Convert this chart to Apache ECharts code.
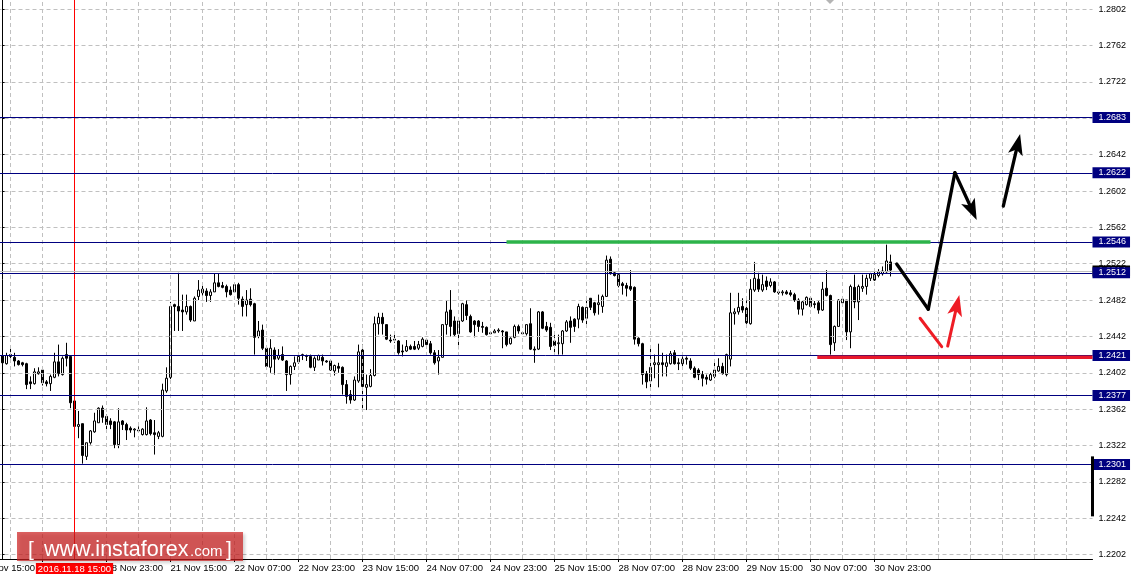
<!DOCTYPE html>
<html><head><meta charset="utf-8">
<script src="https://cdn.jsdelivr.net/npm/echarts@6/dist/echarts.min.js"></script>
<style>html,body{margin:0;padding:0;background:#fff}#c{width:1136px;height:582px}</style>
</head><body><div id="c"></div>
<script>
// ---- data ----
const tickLabels = ["17 Nov 15:00","18 Nov 07:00","18 Nov 23:00","21 Nov 15:00","22 Nov 07:00","22 Nov 23:00",
  "23 Nov 15:00","24 Nov 07:00","24 Nov 23:00","25 Nov 15:00","28 Nov 07:00","28 Nov 23:00","29 Nov 15:00",
  "30 Nov 07:00","30 Nov 23:00"];
const yTicks = [1.2202,1.2242,1.2282,1.2322,1.2362,1.2402,1.2442,1.2482,1.2522,1.2562,1.2602,1.2642,1.2682,1.2722,1.2762,1.2802];
const levels = [1.2683,1.2622,1.2546,1.2512,1.2421,1.2377,1.2301];
const bidPrice = 1.2514;
const markerBar = 18;
const markerTime = "2016.11.18 15:00";
// H1 candles: [open, close, low, high]
const candles = [
[1.2421,1.2413,1.2412,1.2427],[1.2412,1.2421,1.2411,1.2424],[1.2422,1.2420,1.2418,1.2431],[1.2419,1.2415,1.2409,1.2424],
[1.2415,1.2411,1.2410,1.2416],[1.2413,1.2411,1.2409,1.2414],[1.2412,1.2389,1.2384,1.2413],[1.2392,1.2390,1.2384,1.2398],
[1.2390,1.2403,1.2389,1.2407],[1.2401,1.2403,1.2400,1.2408],[1.2405,1.2391,1.2388,1.2407],[1.2392,1.2390,1.2387,1.2394],
[1.2390,1.2398,1.2382,1.2400],[1.2397,1.2414,1.2396,1.2424],[1.2414,1.2401,1.2398,1.2433],[1.2400,1.2418,1.2399,1.2420],
[1.2422,1.2418,1.2409,1.2435],[1.2420,1.2369,1.2363,1.2421],[1.2371,1.2343,1.2340,1.2372],[1.2343,1.2345,1.2330,1.2360],
[1.2346,1.2311,1.2302,1.2346],[1.2310,1.2325,1.2306,1.2325],[1.2325,1.2338,1.2323,1.2339],[1.2337,1.2349,1.2336,1.2358],
[1.2347,1.2363,1.2347,1.2364],[1.2363,1.2353,1.2347,1.2366],[1.2354,1.2345,1.2340,1.2356],[1.2349,1.2345,1.2340,1.2352],
[1.2348,1.2323,1.2319,1.2349],[1.2323,1.2348,1.2319,1.2363],[1.2349,1.2345,1.2339,1.2350],[1.2345,1.2339,1.2328,1.2347],
[1.2341,1.2339,1.2336,1.2343],[1.2339,1.2340,1.2331,1.2341],[1.2339,1.2338,1.2336,1.2343],[1.2334,1.2340,1.2333,1.2341],
[1.2334,1.2349,1.2333,1.2364],[1.2350,1.2335,1.2333,1.2351],[1.2336,1.2334,1.2312,1.2350],[1.2332,1.2336,1.2329,1.2338],
[1.2332,1.2383,1.2331,1.2390],[1.2382,1.2396,1.2380,1.2408],[1.2397,1.2475,1.2395,1.2480],[1.2477,1.2475,1.2448,1.2478],
[1.2475,1.2470,1.2448,1.2512],[1.2471,1.2469,1.2448,1.2488],[1.2469,1.2475,1.2466,1.2488],[1.2475,1.2460,1.2458,1.2476],
[1.2459,1.2484,1.2459,1.2486],[1.2486,1.2493,1.2482,1.2504],[1.2494,1.2490,1.2487,1.2501],[1.2492,1.2487,1.2480,1.2495],
[1.2487,1.2491,1.2480,1.2494],[1.2491,1.2501,1.2491,1.2511],[1.2501,1.2497,1.2496,1.2511],[1.2498,1.2496,1.2495,1.2502],
[1.2497,1.2491,1.2485,1.2499],[1.2493,1.2488,1.2487,1.2497],[1.2491,1.2499,1.2490,1.2501],[1.2499,1.2484,1.2477,1.2501],
[1.2483,1.2475,1.2464,1.2486],[1.2477,1.2482,1.2464,1.2493],[1.2483,1.2477,1.2475,1.2495],[1.2478,1.2441,1.2422,1.2479],
[1.2442,1.2448,1.2440,1.2459],[1.2449,1.2429,1.2427,1.2455],[1.2429,1.2409,1.2407,1.2430],[1.2408,1.2429,1.2402,1.2439],
[1.2427,1.2417,1.2400,1.2430],[1.2418,1.2421,1.2416,1.2428],[1.2422,1.2416,1.2415,1.2431],[1.2415,1.2400,1.2382,1.2416],
[1.2400,1.2409,1.2389,1.2410],[1.2409,1.2413,1.2405,1.2420],[1.2414,1.2420,1.2412,1.2421],[1.2421,1.2422,1.2416,1.2423],
[1.2421,1.2420,1.2415,1.2422],[1.2420,1.2408,1.2407,1.2422],[1.2408,1.2418,1.2404,1.2420],[1.2416,1.2421,1.2416,1.2422],
[1.2419,1.2415,1.2410,1.2422],[1.2415,1.2414,1.2413,1.2416],[1.2415,1.2405,1.2404,1.2416],[1.2404,1.2410,1.2399,1.2411],
[1.2409,1.2407,1.2402,1.2413],[1.2408,1.2389,1.2378,1.2409],[1.2389,1.2376,1.2368,1.2394],[1.2378,1.2372,1.2368,1.2383],
[1.2372,1.2394,1.2371,1.2398],[1.2393,1.2425,1.2391,1.2433],[1.2427,1.2387,1.2361,1.2433],[1.2386,1.2389,1.2361,1.2400],
[1.2387,1.2399,1.2386,1.2406],[1.2399,1.2456,1.2398,1.2464],[1.2456,1.2463,1.2444,1.2468],[1.2463,1.2456,1.2444,1.2468],
[1.2455,1.2439,1.2438,1.2455],[1.2438,1.2437,1.2435,1.2444],[1.2439,1.2438,1.2435,1.2444],[1.2437,1.2424,1.2422,1.2438],
[1.2426,1.2425,1.2420,1.2433],[1.2426,1.2431,1.2425,1.2438],[1.2431,1.2428,1.2427,1.2433],[1.2431,1.2428,1.2427,1.2437],
[1.2429,1.2433,1.2427,1.2437],[1.2431,1.2439,1.2430,1.2441],[1.2438,1.2433,1.2431,1.2439],[1.2434,1.2424,1.2422,1.2437],
[1.2424,1.2413,1.2411,1.2427],[1.2415,1.2419,1.2400,1.2427],[1.2419,1.2455,1.2419,1.2455],[1.2455,1.2469,1.2444,1.2482],
[1.2471,1.2453,1.2442,1.2493],[1.2459,1.2444,1.2442,1.2464],[1.2445,1.2459,1.2428,1.2461],[1.2459,1.2478,1.2458,1.2479],
[1.2477,1.2465,1.2460,1.2482],[1.2464,1.2447,1.2446,1.2466],[1.2459,1.2455,1.2441,1.2460],[1.2459,1.2453,1.2447,1.2460],
[1.2453,1.2452,1.2446,1.2458],[1.2452,1.2444,1.2443,1.2453],[1.2446,1.2445,1.2444,1.2447],[1.2446,1.2448,1.2446,1.2450],
[1.2448,1.2449,1.2446,1.2451],[1.2448,1.2447,1.2429,1.2449],[1.2447,1.2433,1.2431,1.2447],[1.2434,1.2440,1.2433,1.2441],
[1.2441,1.2453,1.2440,1.2455],[1.2453,1.2448,1.2445,1.2455],[1.2446,1.2445,1.2444,1.2448],[1.2445,1.2455,1.2443,1.2455],
[1.2456,1.2428,1.2427,1.2473],[1.2428,1.2427,1.2413,1.2431],[1.2428,1.2469,1.2427,1.2470],[1.2469,1.2451,1.2450,1.2470],
[1.2453,1.2449,1.2447,1.2458],[1.2452,1.2431,1.2427,1.2457],[1.2437,1.2432,1.2423,1.2446],[1.2434,1.2435,1.2422,1.2444],
[1.2434,1.2448,1.2422,1.2449],[1.2448,1.2458,1.2447,1.2460],[1.2459,1.2452,1.2435,1.2464],[1.2461,1.2453,1.2447,1.2462],
[1.2461,1.2475,1.2451,1.2478],[1.2474,1.2460,1.2457,1.2475],[1.2462,1.2474,1.2454,1.2486],[1.2484,1.2474,1.2471,1.2484],
[1.2479,1.2468,1.2465,1.2480],[1.2477,1.2479,1.2466,1.2488],[1.2475,1.2486,1.2468,1.2488],[1.2486,1.2526,1.2486,1.2531],
[1.2527,1.2511,1.2510,1.2530],[1.2512,1.2509,1.2508,1.2513],[1.2510,1.2498,1.2496,1.2511],[1.2500,1.2498,1.2488,1.2502],
[1.2498,1.2495,1.2486,1.2501],[1.2497,1.2494,1.2492,1.2515],[1.2496,1.2439,1.2433,1.2497],[1.2440,1.2434,1.2431,1.2441],
[1.2434,1.2400,1.2389,1.2435],[1.2401,1.2392,1.2385,1.2404],[1.2393,1.2408,1.2383,1.2432],[1.2411,1.2413,1.2396,1.2422],
[1.2411,1.2413,1.2386,1.2434],[1.2413,1.2411,1.2398,1.2424],[1.2409,1.2413,1.2398,1.2422],[1.2412,1.2423,1.2411,1.2426],
[1.2424,1.2412,1.2411,1.2427],[1.2413,1.2412,1.2405,1.2418],[1.2412,1.2417,1.2409,1.2420],[1.2418,1.2417,1.2411,1.2420],
[1.2415,1.2407,1.2405,1.2418],[1.2407,1.2397,1.2396,1.2409],[1.2405,1.2400,1.2394,1.2407],[1.2400,1.2396,1.2387,1.2404],
[1.2397,1.2395,1.2389,1.2400],[1.2394,1.2400,1.2393,1.2402],[1.2398,1.2405,1.2396,1.2415],[1.2404,1.2409,1.2403,1.2418],
[1.2409,1.2401,1.2400,1.2413],[1.2400,1.2422,1.2398,1.2423],[1.2417,1.2468,1.2409,1.2490],[1.2467,1.2469,1.2455,1.2473],
[1.2469,1.2474,1.2466,1.2490],[1.2475,1.2471,1.2468,1.2484],[1.2473,1.2457,1.2455,1.2482],[1.2456,1.2494,1.2455,1.2505],
[1.2493,1.2506,1.2491,1.2524],[1.2505,1.2494,1.2491,1.2512],[1.2493,1.2499,1.2491,1.2510],[1.2503,1.2497,1.2493,1.2508],
[1.2498,1.2502,1.2496,1.2506],[1.2502,1.2491,1.2490,1.2503],[1.2491,1.2490,1.2488,1.2494],[1.2490,1.2491,1.2487,1.2493],
[1.2491,1.2489,1.2488,1.2493],[1.2490,1.2488,1.2486,1.2493],[1.2488,1.2482,1.2480,1.2490],[1.2482,1.2472,1.2466,1.2484],
[1.2472,1.2480,1.2465,1.2481],[1.2477,1.2485,1.2476,1.2486],[1.2484,1.2475,1.2474,1.2486],[1.2478,1.2477,1.2473,1.2481],
[1.2479,1.2471,1.2467,1.2481],[1.2471,1.2494,1.2470,1.2502],[1.2495,1.2487,1.2486,1.2515],[1.2487,1.2433,1.2422,1.2488],
[1.2435,1.2453,1.2426,1.2454],[1.2453,1.2482,1.2453,1.2483],[1.2479,1.2483,1.2476,1.2486],[1.2482,1.2447,1.2438,1.2482],
[1.2447,1.2497,1.2429,1.2499],[1.2496,1.2480,1.2473,1.2510],[1.2480,1.2497,1.2460,1.2499],[1.2495,1.2497,1.2491,1.2510],
[1.2497,1.2506,1.2488,1.2510],[1.2506,1.2511,1.2503,1.2512],[1.2510,1.2504,1.2503,1.2517],[1.2509,1.2513,1.2507,1.2516],
[1.2511,1.2514,1.2509,1.2519],[1.2513,1.2525,1.2512,1.2543],[1.2524,1.2515,1.2508,1.2532]
];
// drawn annotations, in [bar index, price]
const greenLine = [[126, 1.2546], [232, 1.2546]];
const redLine = [[203.7, 1.2419], [272.5, 1.2419]];
// segments: [x1, p1, x2, p2, hasArrowHead]
const blackArrows = [
  [223.55, 1.25217, 231.45, 1.24719, 0],
  [231.45, 1.24719, 238.1, 1.26222, 0],
  [238.1, 1.26222, 243.55, 1.25701, 1],
  [250.2, 1.25855, 254.4, 1.26648, 1]
];
const redArrows = [
  [229.4, 1.24620, 234.8, 1.24307, 0],
  [236.3, 1.24314, 239.2, 1.24876, 1]
];
const axisBar = [[272.5, 1.2310], [272.5, 1.2244]];

// ---- build ----
const LEAD = 6, NCAT = 279, LABEL_EVERY = 16, GRID_EVERY = 8;
const isLabel = j => j % LABEL_EVERY === 0 && j / LABEL_EVERY < tickLabels.length;
const categories = [];
for (let j = 0; j < NCAT; j++) categories.push(isLabel(j) ? tickLabels[j / LABEL_EVERY] : 'b' + j);
const candleData = [];
for (let j = 0; j < LEAD; j++) candleData.push(['-', '-', '-', '-']);
candles.forEach(c => candleData.push(c));

const FONT = 'Liberation Sans';
const gridLines = yTicks.map(v => ({ yAxis: v }));
for (let j = 0; j < NCAT; j += GRID_EVERY) gridLines.push({ xAxis: j });

const levelLabel = (bg) => ({
  show: true, position: 'end', distance: 0, color: '#fff', backgroundColor: bg,
  padding: [1, 4, 0, 6], fontSize: 9, fontFamily: FONT, lineHeight: 10,
  formatter: p => Number(p.value).toFixed(4)
});
const levelData = [{ yAxis: bidPrice, lineStyle: { color: '#c0c0c0', width: 1, type: 'solid' }, label: levelLabel('#000') }]
  .concat(levels.map(v => ({ yAxis: v, lineStyle: { color: '#000080', width: 1, type: 'solid' }, label: levelLabel('#000080') })));

function arrowRenderer(color, width) {
  return function (params, api) {
    const a = api.coord([api.value(0), api.value(1)]);
    const b = api.coord([api.value(2), api.value(3)]);
    const head = api.value(4);
    const dx = b[0] - a[0], dy = b[1] - a[1];
    const len = Math.hypot(dx, dy) || 1;
    const ux = dx / len, uy = dy / len, nx = -uy, ny = ux;
    const children = [];
    let end = b;
    if (head) {
      const L = 21, H = 7.5, notch = 5;
      const base = [b[0] - ux * L, b[1] - uy * L];
      const n = [b[0] - ux * (L - notch), b[1] - uy * (L - notch)];
      end = n;
      children.push({ type: 'polygon', shape: { points: [b, [base[0] + nx * H, base[1] + ny * H], n, [base[0] - nx * H, base[1] - ny * H]] }, style: { fill: color } });
    }
    children.unshift({ type: 'line', shape: { x1: a[0], y1: a[1], x2: end[0], y2: end[1] }, style: { stroke: color, lineWidth: width, lineCap: 'round' } });
    return { type: 'group', children };
  };
}

const chart = echarts.init(document.getElementById('c'), null, { renderer: 'canvas' });
chart.setOption({
  animation: false,
  backgroundColor: '#fff',
  grid: { left: -23.5, right: 43.5, top: 0, bottom: 23, containLabel: false, outerBoundsMode: 'none' },
  xAxis: [{
    type: 'category', data: categories, boundaryGap: true,
    axisLine: { show: true, lineStyle: { color: '#000', width: 1 } },
    axisTick: { show: true, alignWithLabel: true, interval: (i) => isLabel(i), length: 3, lineStyle: { color: '#000' } },
    axisLabel: { interval: (i) => isLabel(i), align: 'left', margin: 4, color: '#000', fontSize: 9.5, fontFamily: FONT, hideOverlap: false,
      formatter: (v, i) => isLabel(i) ? v : '' },
    splitLine: { show: false }
  }, {
    type: 'value', min: -LEAD - 0.5, max: NCAT - LEAD - 0.5, show: false
  }],
  yAxis: {
    type: 'value', position: 'right', min: 1.219707, max: 1.281223, scale: true,
    axisLine: { show: true, lineStyle: { color: '#000', width: 1 } },
    axisTick: { show: true, length: 3, customValues: yTicks, lineStyle: { color: '#000' } },
    axisLabel: { customValues: yTicks, formatter: v => Number(v).toFixed(4), margin: 6, color: '#000', fontSize: 9, fontFamily: FONT },
    splitLine: { show: false }
  },
  series: [
    { name: 'grid', type: 'line', data: [], z: 1, silent: true,
      markLine: { silent: true, precision: 6, symbol: ['none', 'none'], animation: false, label: { show: false },
        lineStyle: { color: '#c0c0c0', type: [4, 3], width: 1 }, emphasis: { disabled: true }, data: gridLines } },
    { name: 'EURUSD', type: 'candlestick', data: candleData, z: 2, barWidth: 3, clip: false, silent: true,
      itemStyle: { color: '#fff', color0: '#000', borderColor: '#000', borderColor0: '#000', borderWidth: 1 },
      markLine: { silent: true, precision: 6, symbol: ['none', 'none'], animation: false, emphasis: { disabled: true },
        data: [{ xAxis: LEAD + markerBar, lineStyle: { color: '#ff0000', width: 1, type: 'solid' },
          label: { show: true, position: 'start', formatter: markerTime, color: '#fff', backgroundColor: '#ff0000',
            padding: [1, 2, 0, 2], fontSize: 9.5, fontFamily: FONT, distance: 4 } }] } },
    { name: 'levels', type: 'line', data: [], z: 4, silent: true,
      markLine: { silent: true, precision: 6, symbol: ['none', 'none'], animation: false, emphasis: { disabled: true }, data: levelData } },
    { name: 'green', type: 'line', xAxisIndex: 1, data: greenLine, symbol: 'none', z: 5, silent: true,
      lineStyle: { color: '#2db34a', width: 3.5 } },
    { name: 'red', type: 'line', xAxisIndex: 1, data: redLine, symbol: 'none', z: 5, silent: true, clip: false,
      lineStyle: { color: '#e8182a', width: 3.5 } },
    { name: 'blackArrows', type: 'custom', xAxisIndex: 1, data: blackArrows, z: 6, silent: true, clip: false,
      encode: { x: [0, 2], y: [1, 3] }, renderItem: arrowRenderer('#000', 3.3) },
    { name: 'redArrows', type: 'custom', xAxisIndex: 1, data: redArrows, z: 6, silent: true, clip: false,
      encode: { x: [0, 2], y: [1, 3] }, renderItem: arrowRenderer('#ee1c25', 3) },
    { name: 'axisBar', type: 'line', xAxisIndex: 1, data: axisBar, symbol: 'none', z: 7, silent: true, clip: false,
      lineStyle: { color: '#000', width: 3, cap: 'butt' } }
  ],
  graphic: [
    { type: 'polygon', shape: { points: [[826, 0], [834, 0], [830, 4]] }, style: { fill: '#b4b4b4' }, z: 50 },
    { type: 'rect', z: 100, shape: { x: 17, y: 532, width: 226, height: 29 },
      style: { fill: 'rgba(205,30,30,0.7)', shadowBlur: 3, shadowColor: 'rgba(0,0,0,0.25)', shadowOffsetX: 2, shadowOffsetY: 2 } },
    { type: 'text', z: 101, x: 28, y: 561, style: { text: '[', fill: '#fff', fontSize: 21, fontFamily: FONT, verticalAlign: 'bottom', align: 'left' } },
    { type: 'text', z: 101, x: 44, y: 561, style: { text: 'www.instaforex', fill: '#fff', fontSize: 21.5, fontFamily: FONT, verticalAlign: 'bottom', align: 'left' } },
    { type: 'text', z: 101, x: 190, y: 559.5, style: { text: '.com', fill: '#fff', fontSize: 15, fontFamily: FONT, verticalAlign: 'bottom', align: 'left' } },
    { type: 'text', z: 101, x: 226, y: 561, style: { text: ']', fill: '#fff', fontSize: 21, fontFamily: FONT, verticalAlign: 'bottom', align: 'left' } }
  ]
});
</script>
</body></html>
